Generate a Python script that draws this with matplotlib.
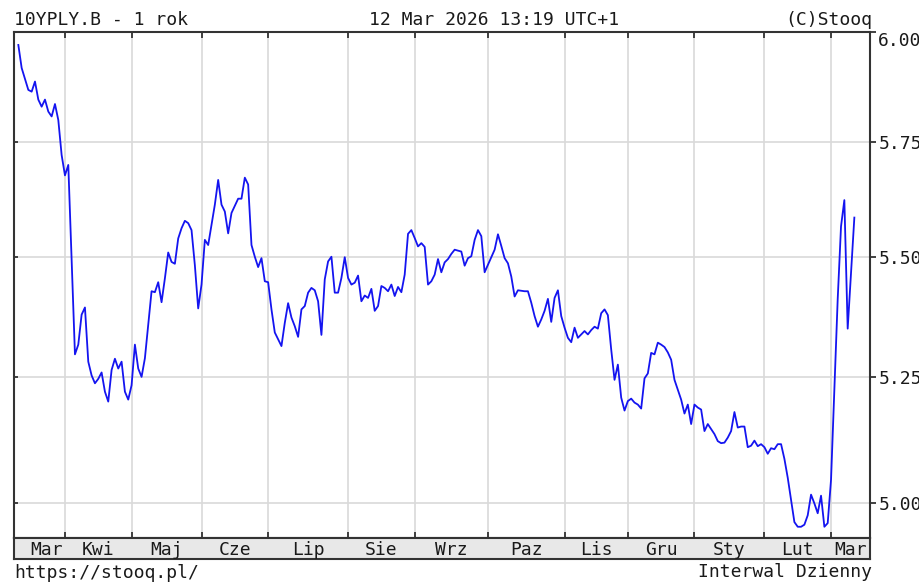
import matplotlib
matplotlib.use('Agg')
import matplotlib.pyplot as plt
from matplotlib.ticker import FixedLocator, NullLocator, FormatStrFormatter

# header / footer texts
title_left = '10YPLY.B - 1 rok'
title_mid = '12 Mar 2026 13:19 UTC+1'
title_right = '(C)Stooq'
footer_left = 'https://stooq.pl/'
footer_right = 'Interwal Dzienny'

# month names and the trading-day index of each month's first session
months = ['Mar', 'Kwi', 'Maj', 'Cze', 'Lip', 'Sie', 'Wrz', 'Paz', 'Lis', 'Gru', 'Sty', 'Lut', 'Mar']
month_starts = [14, 34, 55, 75, 99, 119, 141, 164, 183, 203, 224, 244]
y_ticks = [5.00, 5.25, 5.50, 5.75, 6.00]

# trading-day index (0 = 12 Mar 2025) and daily close of the 10Y PL yield
days = [0, 1, 3, 4, 5, 6, 7, 8, 9, 10, 11, 12, 13, 14, 15, 17, 18, 19, 20, 21,
        22, 23, 24, 25, 26, 27, 28, 29, 30, 31, 32, 33, 34, 35, 36, 37, 38, 39, 40, 41,
        42, 43, 44, 45, 46, 47, 48, 49, 50, 51, 52, 53, 54, 55, 56, 57, 58, 59, 60, 61,
        62, 63, 64, 66, 67, 68, 69, 70, 71, 72, 73, 74, 75, 76, 77, 79, 80, 81, 82, 83,
        84, 85, 86, 87, 88, 89, 90, 91, 92, 93, 94, 95, 96, 97, 98, 99, 100, 101, 102, 103,
        104, 105, 106, 107, 108, 109, 110, 111, 112, 113, 114, 115, 116, 117, 118, 119, 120, 121, 122, 123,
        124, 125, 126, 127, 128, 129, 130, 131, 133, 134, 135, 136, 137, 138, 139, 140, 141, 142, 143, 144,
        145, 146, 147, 148, 149, 150, 152, 153, 154, 155, 156, 157, 158, 159, 160, 161, 162, 163, 164, 165,
        166, 167, 168, 169, 170, 171, 172, 173, 174, 175, 176, 177, 178, 179, 180, 181, 182, 183, 184, 185,
        186, 187, 188, 189, 190, 191, 192, 193, 194, 195, 196, 197, 198, 199, 200, 201, 202, 203, 204, 205,
        206, 207, 208, 209, 210, 211, 212, 213, 214, 215, 216, 217, 218, 219, 220, 221, 222, 223, 224, 225,
        226, 227, 228, 229, 230, 231, 232, 233, 234, 235, 236, 237, 238, 239, 240, 241, 242, 243, 244, 245,
        246, 247, 248, 249, 250, 251]
yields = [5.970, 5.917, 5.867, 5.863, 5.886, 5.845, 5.829, 5.845, 5.818, 5.807, 5.835, 5.799, 5.721, 5.676, 5.699, 5.296, 5.316, 5.378, 5.393, 5.281,
          5.253, 5.237, 5.246, 5.259, 5.220, 5.200, 5.264, 5.287, 5.267, 5.281, 5.220, 5.204, 5.233, 5.316, 5.267, 5.250, 5.288, 5.357, 5.427, 5.425,
          5.446, 5.404, 5.454, 5.509, 5.489, 5.485, 5.539, 5.561, 5.577, 5.572, 5.557, 5.482, 5.391, 5.441, 5.536, 5.525, 5.568, 5.612, 5.666, 5.612,
          5.597, 5.550, 5.594, 5.625, 5.625, 5.671, 5.656, 5.525, 5.500, 5.478, 5.497, 5.448, 5.446, 5.389, 5.341, 5.313, 5.361, 5.402, 5.372, 5.354,
          5.332, 5.389, 5.396, 5.424, 5.434, 5.429, 5.406, 5.336, 5.452, 5.490, 5.500, 5.424, 5.424, 5.455, 5.499, 5.455, 5.441, 5.445, 5.460, 5.406,
          5.418, 5.413, 5.432, 5.386, 5.396, 5.438, 5.434, 5.427, 5.441, 5.417, 5.436, 5.425, 5.462, 5.549, 5.557, 5.540, 5.522, 5.529, 5.521, 5.441,
          5.448, 5.462, 5.495, 5.467, 5.488, 5.495, 5.506, 5.515, 5.511, 5.481, 5.497, 5.501, 5.536, 5.557, 5.544, 5.467, 5.483, 5.499, 5.515, 5.548,
          5.523, 5.497, 5.486, 5.458, 5.416, 5.429, 5.427, 5.427, 5.403, 5.375, 5.353, 5.368, 5.386, 5.411, 5.363, 5.413, 5.429, 5.375, 5.351, 5.330,
          5.321, 5.351, 5.330, 5.337, 5.344, 5.337, 5.346, 5.353, 5.349, 5.381, 5.389, 5.377, 5.306, 5.244, 5.275, 5.208, 5.182, 5.201, 5.206, 5.198,
          5.194, 5.186, 5.247, 5.257, 5.299, 5.296, 5.320, 5.316, 5.311, 5.300, 5.285, 5.244, 5.224, 5.204, 5.176, 5.194, 5.155, 5.194, 5.188, 5.184,
          5.141, 5.155, 5.145, 5.135, 5.121, 5.117, 5.118, 5.128, 5.141, 5.179, 5.148, 5.150, 5.150, 5.109, 5.112, 5.122, 5.111, 5.115, 5.109, 5.096,
          5.107, 5.105, 5.115, 5.115, 5.086, 5.049, 5.006, 4.963, 4.954, 4.954, 4.958, 4.976, 5.016, 4.999, 4.980, 5.014, 4.954, 4.961, 5.045, 5.224,
          5.410, 5.565, 5.622, 5.349, 5.465, 5.584]

W, H = 920, 588
ink, frame, grid, band_bg = '#1a1a1a', '#333333', '#d9d9d9', '#e8e8e8'
plt.rcParams.update({'font.family': ['DejaVu Sans Mono'], 'font.size': 13, 'text.color': ink})

def box(l, t, r, b):
    # pixel box -> figure fraction rect
    return [l / W, 1 - b / H, (r - l) / W, (b - t) / H]

x_lo, x_hi = -1.3, 255.7

fig = plt.figure(figsize=(W / 100, H / 100), dpi=100)
ax = fig.add_axes(box(14, 32, 870, 538))
band = fig.add_axes(box(14, 538, 870, 559))

ax.set_yscale('log')
ax.plot(days, yields, color='#1414f0', linewidth=1.3, solid_joinstyle='round')
ax.set_xlim(x_lo, x_hi)
ax.set_ylim(4.9325, 6.0)
ax.set_xticks(month_starts)
ax.yaxis.set_major_locator(FixedLocator(y_ticks))
ax.yaxis.set_minor_locator(NullLocator())
ax.grid(True, color=grid, linewidth=1.2)
ax.set_axisbelow(True)
ax.tick_params(axis='x', direction='in', top=True, bottom=True, labelbottom=False,
               length=4, width=1.3, color=frame)
ax.tick_params(axis='y', direction='in', left=True, right=False, labelleft=False,
               length=3, width=1.3, color=frame)
for s in ax.spines.values():
    s.set_linewidth(1.5)
    s.set_color(frame)

# price scale on the right
ax2 = ax.twinx()
ax2.set_yscale('log')
ax2.set_ylim(ax.get_ylim())
ax2.yaxis.set_major_locator(FixedLocator(y_ticks))
ax2.yaxis.set_minor_locator(NullLocator())
ax2.yaxis.set_major_formatter(FormatStrFormatter('%.2f'))
ax2.tick_params(axis='y', direction='out', length=4, width=1.3, color=frame,
                labelsize=13, labelcolor=ink, pad=2)
for s in ax2.spines.values():
    s.set_visible(False)
fig.canvas.draw()
for lab in ax2.get_yticklabels():
    if lab.get_text() == '6.00':
        lab.set_va('top')

# month band
band.set_xlim(x_lo, x_hi)
band.set_ylim(0, 1)
band.set_facecolor(band_bg)
band.set_xticks([])
band.set_yticks([])
for s in band.spines.values():
    s.set_linewidth(1.5)
    s.set_color(frame)
edges = [x_lo] + month_starts + [x_hi]
mids = [(a + b) / 2 for a, b in zip(edges[:-1], edges[1:])]
mids[0] += 2
for m, name in zip(mids, months):
    band.text(m, 0.45, name, ha='center', va='center')

fig.text(14 / W, 1 - 25 / H, title_left, ha='left', va='baseline')
fig.text(494 / W, 1 - 25 / H, title_mid, ha='center', va='baseline')
fig.text(872 / W, 1 - 25 / H, title_right, ha='right', va='baseline')
fig.text(14 / W, 1 - 578 / H, footer_left, ha='left', va='baseline')
fig.text(872 / W, 1 - 577 / H, footer_right, ha='right', va='baseline')

fig.savefig('out.png', dpi=100, facecolor='white')
plt.close(fig)
